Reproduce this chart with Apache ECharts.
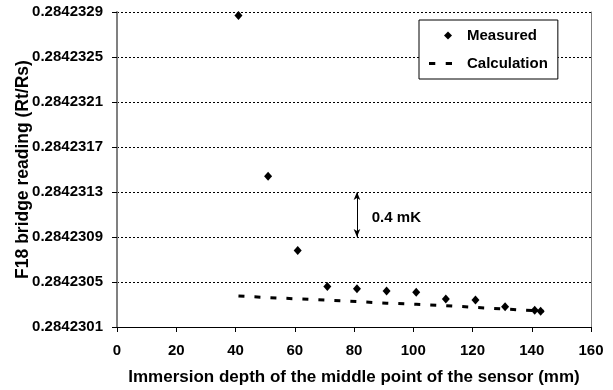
<!DOCTYPE html>
<html>
<head>
<meta charset="utf-8">
<script src="https://cdn.jsdelivr.net/npm/echarts@6/dist/echarts.min.js"></script>
<style>
html,body{margin:0;padding:0;background:#fff;}
#container{width:613px;height:390px;}
</style>
</head>
<body>
<div id="container"></div>
<script>
// measured bridge readings
var measuredDepth = [41, 51, 61, 71, 81, 91, 101, 111, 121, 131, 141, 143];
var measuredReading = [0.28423287, 0.28423144, 0.28423078, 0.28423046, 0.28423044, 0.28423042,
                       0.28423041, 0.28423035, 0.28423034, 0.28423028, 0.28423025, 0.28423024];
// calculated curve
var calcDepth = [41, 51, 61, 71, 81, 91, 101, 111, 121, 131, 141, 144];
var calcReading = [0.284230375, 0.284230362, 0.28423035, 0.284230338, 0.284230326, 0.284230312,
                   0.284230302, 0.28423029, 0.284230274, 0.28423026, 0.284230245, 0.28423024];
// 0.4 mK marker
var arrowDepth = 81;
var arrowFrom = 0.2842313;
var arrowTo = 0.2842309;
var noteText = '0.4 mK';
var notePos = [86, 0.28423107];

var yMin = 0.2842301, yMax = 0.2842329, yStep = 0.0000004;
var font = '"Liberation Sans", Arial, sans-serif';

function pairs(xs, ys){
    var out = [];
    for (var i = 0; i < xs.length; i++) out.push([xs[i], ys[i]]);
    return out;
}

var dom = document.getElementById("container");
var myChart = echarts.init(dom);
var option = {
    animation: false,
    backgroundColor: '#fff',
    grid: { left: 117, right: 22, top: 12, bottom: 63, outerBoundsMode: 'none', containLabel: false },
    legend: {
        orient: 'vertical',
        left: 419, top: 20,
        padding: [8, 10, 8, 10],
        itemGap: 13,
        itemWidth: 23, itemHeight: 8,
        backgroundColor: '#fff',
        borderColor: '#000', borderWidth: 1,
        textStyle: { fontFamily: font, fontWeight: 'bold', fontSize: 15, color: '#000', padding: [0, 0, 0, 10] },
        data: [
            { name: 'Measured', icon: 'path://M0,4L0,4M19,0L23,4L19,8L15,4Z' },
            { name: 'Calculation', icon: 'path://M0,0h6v3h-6zM16,0h6v3h-6z' }
        ]
    },
    xAxis: {
        type: 'value', min: 0, max: 160, interval: 20,
        name: 'Immersion depth of the middle point of the sensor (mm)',
        nameLocation: 'middle', nameGap: 42, nameMoveOverlap: false,
        nameTextStyle: { fontFamily: font, fontWeight: 'bold', fontSize: 17, color: '#000' },
        axisLine: { lineStyle: { color: '#000', width: 1 } },
        axisTick: { show: true, length: 5, lineStyle: { color: '#000' } },
        axisLabel: { fontFamily: font, fontWeight: 'bold', fontSize: 15, color: '#000', margin: 16 },
        splitLine: { show: false }
    },
    yAxis: [{
        type: 'value', min: yMin, max: yMax, interval: yStep,
        name: 'F18 bridge reading (Rt/Rs)',
        nameLocation: 'middle', nameGap: 85, nameMoveOverlap: false,
        nameTextStyle: { fontFamily: font, fontWeight: 'bold', fontSize: 17.5, color: '#000' },
        axisLine: { show: true, lineStyle: { color: '#808080', width: 2 } },
        axisTick: { show: true, length: 5, lineStyle: { color: '#000' } },
        axisLabel: {
            fontFamily: font, fontWeight: 'bold', fontSize: 15, color: '#000', margin: 14,
            formatter: function(v){ return v.toFixed(7); }
        },
        splitLine: { show: true, lineStyle: { color: '#000', width: 1, type: [2, 2] } }
    }, {
        type: 'value', position: 'right', min: yMin, max: yMax,
        axisLine: { show: true, lineStyle: { color: '#808080', width: 1 } },
        axisTick: { show: false }, axisLabel: { show: false }, splitLine: { show: false }
    }],
    series: [
        {
            name: 'Measured',
            type: 'scatter',
            symbol: 'diamond',
            symbolSize: [8, 9],
            itemStyle: { color: '#000', opacity: 1 },
            data: pairs(measuredDepth, measuredReading),
            z: 3
        },
        {
            name: 'Calculation',
            type: 'line',
            symbol: 'none',
            lineStyle: { color: '#000', width: 3, type: [6, 10] },
            itemStyle: { color: '#000' },
            data: pairs(calcDepth, calcReading),
            markLine: {
                silent: true,
                symbol: ['arrow', 'arrow'],
                symbolSize: [5, 8],
                label: { show: false },
                lineStyle: { color: '#000', width: 1, type: 'solid' },
                data: [[{ coord: [arrowDepth, arrowFrom] }, { coord: [arrowDepth, arrowTo] }]]
            },
            markPoint: {
                silent: true,
                symbol: 'circle',
                symbolSize: 0,
                label: {
                    show: true, position: 'right', distance: 0,
                    formatter: noteText,
                    fontFamily: font, fontWeight: 'bold', fontSize: 15, color: '#000'
                },
                data: [{ coord: notePos }]
            }
        }
    ]
};
if (option && typeof option === "object") {
    myChart.setOption(option, true);
}
</script>
</body>
</html>
